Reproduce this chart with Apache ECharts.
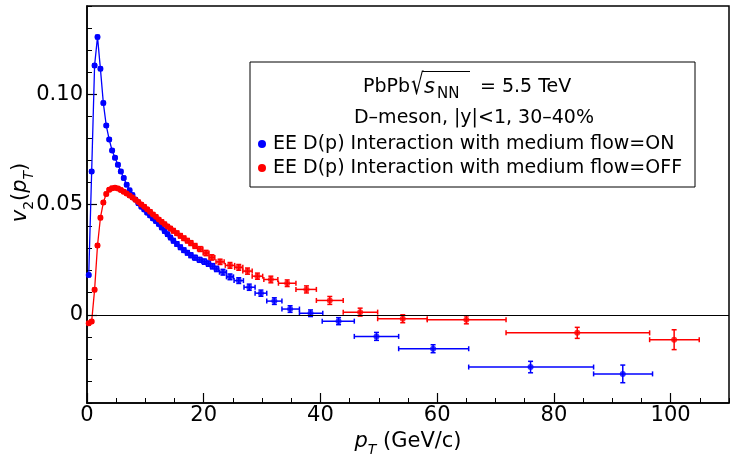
<!DOCTYPE html>
<html>
<head>
<meta charset="utf-8">
<script src="https://cdn.jsdelivr.net/npm/echarts@6/dist/echarts.min.js"></script>
<style>
  html, body { margin: 0; padding: 0; background: #fff; }
  #chart { width: 730px; height: 462px; }
</style>
</head>
<body>
<div id="chart"></div>
<script>
// D-meson v2(pT), PbPb 5.5 TeV, 30-40% centrality, |y|<1

// EE D(p) interaction, medium flow = ON
const onPt = [0.3, 0.8, 1.3, 1.8, 2.3, 2.8, 3.3, 3.8, 4.3, 4.8, 5.3, 5.8, 6.3, 6.8, 7.3, 7.8, 8.3, 8.8, 9.3, 9.8,
  10.3, 10.8, 11.3, 11.8, 12.3, 12.8, 13.3, 13.8, 14.3, 14.8, 15.4, 16.0, 16.6, 17.2, 17.8, 18.5, 19.3, 20.1, 20.8, 21.5,
  22.2, 23.3, 24.5, 26.0, 27.8, 29.8, 32.1, 34.8, 38.3, 43.1, 49.6, 59.3, 76.0, 91.8];
const onV2 = [0.018, 0.065, 0.113, 0.126, 0.1115, 0.096, 0.0858, 0.0795, 0.0745, 0.0712, 0.068, 0.065, 0.062, 0.059, 0.0565, 0.0543, 0.0523, 0.0506, 0.049, 0.0477,
  0.0463, 0.045, 0.0437, 0.0425, 0.0412, 0.0396, 0.038, 0.0365, 0.035, 0.0336, 0.0321, 0.0306, 0.0293, 0.0281, 0.027, 0.0259, 0.0249, 0.0241, 0.0232, 0.022,
  0.0208, 0.0193, 0.0172, 0.0155, 0.0125, 0.0098, 0.0062, 0.0026, 0.0007, -0.0029, -0.0098, -0.0154, -0.0237, -0.0268];
const onErr = [0.0005, 0.0005, 0.0005, 0.0005, 0.0005, 0.0005, 0.0005, 0.0005, 0.0005, 0.0005, 0.0006, 0.0006, 0.0006, 0.0006, 0.0006, 0.0006, 0.0007, 0.0007, 0.0007, 0.0007,
  0.0007, 0.0008, 0.0008, 0.0008, 0.0008, 0.0009, 0.0009, 0.0009, 0.0009, 0.001, 0.001, 0.001, 0.001, 0.001, 0.0011, 0.0011, 0.0011, 0.0012, 0.0012, 0.0012,
  0.0012, 0.0013, 0.0013, 0.0013, 0.0014, 0.0014, 0.0015, 0.0015, 0.0015, 0.0016, 0.0018, 0.0018, 0.0026, 0.004];
const onXLo = [0.25, 0.25, 0.25, 0.25, 0.25, 0.25, 0.25, 0.25, 0.25, 0.25, 0.25, 0.25, 0.25, 0.25, 0.25, 0.25, 0.25, 0.25, 0.25, 0.25,
  0.25, 0.25, 0.25, 0.25, 0.25, 0.25, 0.25, 0.25, 0.25, 0.25, 0.3, 0.3, 0.3, 0.3, 0.3, 0.4, 0.4, 0.4, 0.35, 0.35,
  0.35, 0.6, 0.6, 0.8, 0.9, 1.0, 1.3, 1.4, 1.9, 2.8, 3.8, 5.9, 10.6, 5.0];
const onXHi = [0.25, 0.25, 0.25, 0.25, 0.25, 0.25, 0.25, 0.25, 0.25, 0.25, 0.25, 0.25, 0.25, 0.25, 0.25, 0.25, 0.25, 0.25, 0.25, 0.25,
  0.25, 0.25, 0.25, 0.25, 0.25, 0.25, 0.25, 0.25, 0.25, 0.25, 0.3, 0.3, 0.3, 0.3, 0.3, 0.4, 0.4, 0.4, 0.35, 0.35,
  0.35, 0.6, 0.6, 0.8, 1.0, 1.0, 1.3, 1.6, 2.1, 2.7, 3.8, 6.1, 10.8, 5.1];

// EE D(p) interaction, medium flow = OFF
const offPt = [0.3, 0.8, 1.3, 1.8, 2.3, 2.8, 3.3, 3.8, 4.3, 4.8, 5.3, 5.8, 6.3, 6.8, 7.3, 7.8, 8.3, 8.8, 9.3, 9.8,
  10.3, 10.8, 11.3, 11.8, 12.3, 12.8, 13.3, 13.8, 14.3, 14.8, 15.4, 16.0, 16.6, 17.2, 17.8, 18.5, 19.4, 20.4, 21.4, 22.8,
  24.5, 26.0, 27.5, 29.2, 31.5, 34.3, 37.6, 41.6, 46.8, 54.1, 65.0, 84.0, 100.6];
const offV2 = [-0.0038, -0.003, 0.0113, 0.0314, 0.044, 0.0509, 0.0548, 0.0567, 0.0574, 0.0576, 0.0573, 0.0566, 0.0558, 0.055, 0.0541, 0.0532, 0.0522, 0.0511, 0.05, 0.049,
  0.0478, 0.0467, 0.0455, 0.0444, 0.0432, 0.0421, 0.041, 0.04, 0.0391, 0.0381, 0.037, 0.0358, 0.0347, 0.0336, 0.0325, 0.0312, 0.0298, 0.028, 0.026, 0.024,
  0.0224, 0.0215, 0.0198, 0.0175, 0.016, 0.0143, 0.0115, 0.0065, 0.0012, -0.0018, -0.0023, -0.0082, -0.0113];
const offErr = [0.0005, 0.0005, 0.0005, 0.0005, 0.0005, 0.0005, 0.0005, 0.0005, 0.0005, 0.0005, 0.0006, 0.0006, 0.0006, 0.0006, 0.0006, 0.0006, 0.0007, 0.0007, 0.0007, 0.0007,
  0.0007, 0.0008, 0.0008, 0.0008, 0.0008, 0.0009, 0.0009, 0.0009, 0.0009, 0.001, 0.001, 0.001, 0.001, 0.001, 0.0011, 0.0011, 0.0011, 0.0012, 0.0012, 0.0012,
  0.0013, 0.0013, 0.0014, 0.0014, 0.0015, 0.0015, 0.0016, 0.0018, 0.0018, 0.0018, 0.0018, 0.0025, 0.0045];
const offXLo = [0.25, 0.25, 0.25, 0.25, 0.25, 0.25, 0.25, 0.25, 0.25, 0.25, 0.25, 0.25, 0.25, 0.25, 0.25, 0.25, 0.25, 0.25, 0.25, 0.25,
  0.25, 0.25, 0.25, 0.25, 0.25, 0.25, 0.25, 0.25, 0.25, 0.25, 0.3, 0.3, 0.3, 0.3, 0.3, 0.3, 0.45, 0.5, 0.5, 0.7,
  0.8, 0.7, 0.8, 0.9, 1.2, 1.5, 1.8, 2.3, 2.9, 4.3, 6.7, 12.2, 4.2];
const offXHi = [0.25, 0.25, 0.25, 0.25, 0.25, 0.25, 0.25, 0.25, 0.25, 0.25, 0.25, 0.25, 0.25, 0.25, 0.25, 0.25, 0.25, 0.25, 0.25, 0.25,
  0.25, 0.25, 0.25, 0.25, 0.25, 0.25, 0.25, 0.25, 0.25, 0.25, 0.3, 0.3, 0.3, 0.3, 0.3, 0.3, 0.45, 0.5, 0.5, 0.7,
  0.8, 0.7, 0.8, 0.9, 1.2, 1.5, 1.7, 2.3, 3.0, 4.2, 6.8, 12.4, 4.3];

// axis ticks
const xMajorTicks = [0, 20, 40, 60, 80, 100];
const yMajorTicks = [0, 0.05, 0.10];

// points joined by a line (fine 0.5 GeV/c bins)
const joinedCount = 30;

const BLUE = '#0000ff';
const RED = '#ff0000';
const FONT = 'DejaVu Sans';

function errorBars(color, pt, v2, err, xLo, xHi) {
  const data = pt.map((x, i) => [x, v2[i], v2[i] - err[i], v2[i] + err[i], x - xLo[i], x + xHi[i]]);
  return {
    type: 'custom',
    xAxisIndex: 0,
    yAxisIndex: 0,
    silent: true,
    z: 3,
    data: data,
    encode: { x: [0, 4, 5], y: [1, 2, 3] },
    renderItem: function (params, api) {
      const c = api.coord([api.value(0), api.value(1)]);
      const lo = api.coord([api.value(0), api.value(2)]);
      const hi = api.coord([api.value(0), api.value(3)]);
      const l = api.coord([api.value(4), api.value(1)]);
      const r = api.coord([api.value(5), api.value(1)]);
      const cap = 2.5;
      const st = { stroke: color, lineWidth: 1.5 };
      const seg = (x1, y1, x2, y2) => ({ type: 'line', shape: { x1, y1, x2, y2 }, style: st });
      return {
        type: 'group',
        children: [
          seg(c[0], lo[1], c[0], hi[1]),
          seg(c[0] - cap, lo[1], c[0] + cap, lo[1]),
          seg(c[0] - cap, hi[1], c[0] + cap, hi[1]),
          seg(l[0], c[1], r[0], c[1]),
          seg(l[0], c[1] - cap, l[0], c[1] + cap),
          seg(r[0], c[1] - cap, r[0], c[1] + cap)
        ]
      };
    }
  };
}

function joined(color, pt, v2) {
  return {
    type: 'line',
    xAxisIndex: 0,
    yAxisIndex: 0,
    silent: true,
    z: 4,
    symbol: 'circle',
    symbolSize: 6,
    showSymbol: true,
    itemStyle: { color: color },
    lineStyle: { color: color, width: 1.3 },
    data: pt.slice(0, joinedCount).map((x, i) => [x, v2[i]])
  };
}

function markers(color, pt, v2) {
  return {
    type: 'scatter',
    xAxisIndex: 0,
    yAxisIndex: 0,
    silent: true,
    z: 4,
    symbol: 'circle',
    symbolSize: 6,
    itemStyle: { color: color },
    data: pt.slice(joinedCount).map((x, i) => [x, v2[i + joinedCount]])
  };
}

const mathRich = {
  it: { fontFamily: FONT, fontSize: 21, fontStyle: 'italic', color: '#000', lineHeight: 30 },
  n: { fontFamily: FONT, fontSize: 21, color: '#000', lineHeight: 30 },
  sub: { fontFamily: FONT, fontSize: 14, color: '#000', lineHeight: 14, verticalAlign: 'bottom' },
  subit: { fontFamily: FONT, fontSize: 14, fontStyle: 'italic', color: '#000', lineHeight: 14, verticalAlign: 'bottom' }
};

const chart = echarts.init(document.getElementById('chart'), null, { renderer: 'canvas' });

const option = {
  animation: false,
  backgroundColor: '#fff',
  grid: {
    left: 87, right: 1, top: 6, bottom: 59,
    outerBoundsMode: 'none', containLabel: false,
    show: true, borderColor: '#000', borderWidth: 1.5, backgroundColor: 'transparent'
  },
  xAxis: [
    {
      type: 'value', min: 0, max: 110, position: 'bottom',
      axisLine: { show: true, onZero: false, lineStyle: { color: '#000', width: 1.5 } },
      axisTick: { show: true, inside: true, length: 10, customValues: xMajorTicks, lineStyle: { color: '#000', width: 1.2 } },
      axisLabel: { show: true, customValues: xMajorTicks, margin: 2, fontFamily: FONT, fontSize: 21, color: '#000' },
      splitLine: { show: false },
      name: '{it|p}{subit|T}{n| (GeV/c)}',
      nameLocation: 'middle', nameGap: 24,
      nameTextStyle: { rich: mathRich }
    },
    {
      type: 'value', min: 0, max: 110, interval: 5, position: 'bottom',
      axisLine: { show: false, onZero: false },
      axisTick: { show: true, inside: true, length: 5, lineStyle: { color: '#000', width: 1 } },
      axisLabel: { show: false },
      splitLine: { show: false }
    }
  ],
  yAxis: [
    {
      type: 'value', min: -0.04, max: 0.14, position: 'left',
      axisLine: { show: true, onZero: false, lineStyle: { color: '#000', width: 1.5 } },
      axisTick: { show: true, inside: true, length: 10, customValues: yMajorTicks, lineStyle: { color: '#000', width: 1.2 } },
      axisLabel: {
        show: true, customValues: yMajorTicks, margin: 4, fontFamily: FONT, fontSize: 21, color: '#000',
        formatter: v => (Math.abs(v) < 1e-9 ? '0' : v.toFixed(2))
      },
      splitLine: { show: false },
      name: '{it|v}{sub|2}{n|(}{it|p}{subit|T}{n|)}',
      nameLocation: 'middle', nameGap: 51, nameRotate: 90, nameMoveOverlap: false,
      nameTextStyle: { rich: mathRich, padding: [0, 0, 0, 24] }
    },
    {
      type: 'value', min: -0.04, max: 0.14, interval: 0.01, position: 'left',
      axisLine: { show: false, onZero: false },
      axisTick: { show: true, inside: true, length: 5, lineStyle: { color: '#000', width: 1 } },
      axisLabel: { show: false },
      splitLine: { show: false }
    }
  ],
  series: [
    {
      type: 'line', xAxisIndex: 0, yAxisIndex: 0, silent: true, data: [], z: 1,
      markLine: {
        silent: true, symbol: 'none', animation: false,
        label: { show: false },
        lineStyle: { color: '#000', type: 'solid', width: 1.2 },
        data: [{ yAxis: 0 }]
      }
    },
    errorBars(BLUE, onPt, onV2, onErr, onXLo, onXHi),
    errorBars(RED, offPt, offV2, offErr, offXLo, offXHi),
    joined(BLUE, onPt, onV2),
    markers(BLUE, onPt, onV2),
    joined(RED, offPt, offV2),
    markers(RED, offPt, offV2)
  ],
  graphic: [
    { type: 'rect', shape: { x: 250, y: 62, width: 445, height: 125 }, style: { fill: '#fff', stroke: '#000', lineWidth: 1 }, z: 10 },
    { type: 'text', x: 363, y: 87, style: { text: 'PbPb', font: '19px "DejaVu Sans"', fill: '#000', textVerticalAlign: 'middle' }, z: 11 },
    { type: 'text', x: 411, y: 101, scaleY: 1.45, style: { text: '\u221A', font: '20px "DejaVu Sans"', fill: '#000', textVerticalAlign: 'bottom' }, z: 11 },
    { type: 'line', shape: { x1: 423, y1: 71.5, x2: 470, y2: 71.5 }, style: { stroke: '#000', lineWidth: 1.2 }, z: 11 },
    { type: 'text', x: 424, y: 88, style: { text: 's', font: 'italic 21px "DejaVu Sans"', fill: '#000', textVerticalAlign: 'middle' }, z: 11 },
    { type: 'text', x: 437, y: 94, style: { text: 'NN', font: '15px "DejaVu Sans"', fill: '#000', textVerticalAlign: 'middle' }, z: 11 },
    { type: 'text', x: 480, y: 87, style: { text: '= 5.5 TeV', font: '19px "DejaVu Sans"', fill: '#000', textVerticalAlign: 'middle' }, z: 11 },
    { type: 'text', x: 474, y: 118, style: { text: 'D\u2013meson, |y|<1, 30\u201340%', font: '19px "DejaVu Sans"', fill: '#000', textAlign: 'center', textVerticalAlign: 'middle' }, z: 11 },
    { type: 'circle', shape: { cx: 262, cy: 144, r: 4 }, style: { fill: BLUE }, z: 11 },
    { type: 'text', x: 273, y: 144, style: { text: 'EE D(p) Interaction with medium flow=ON', font: '19px "DejaVu Sans"', fill: '#000', textVerticalAlign: 'middle' }, z: 11 },
    { type: 'circle', shape: { cx: 262, cy: 168, r: 4 }, style: { fill: RED }, z: 11 },
    { type: 'text', x: 273, y: 168, style: { text: 'EE D(p) Interaction with medium flow=OFF', font: '19px "DejaVu Sans"', fill: '#000', textVerticalAlign: 'middle' }, z: 11 }
  ]
};

chart.setOption(option);
</script>
</body>
</html>
